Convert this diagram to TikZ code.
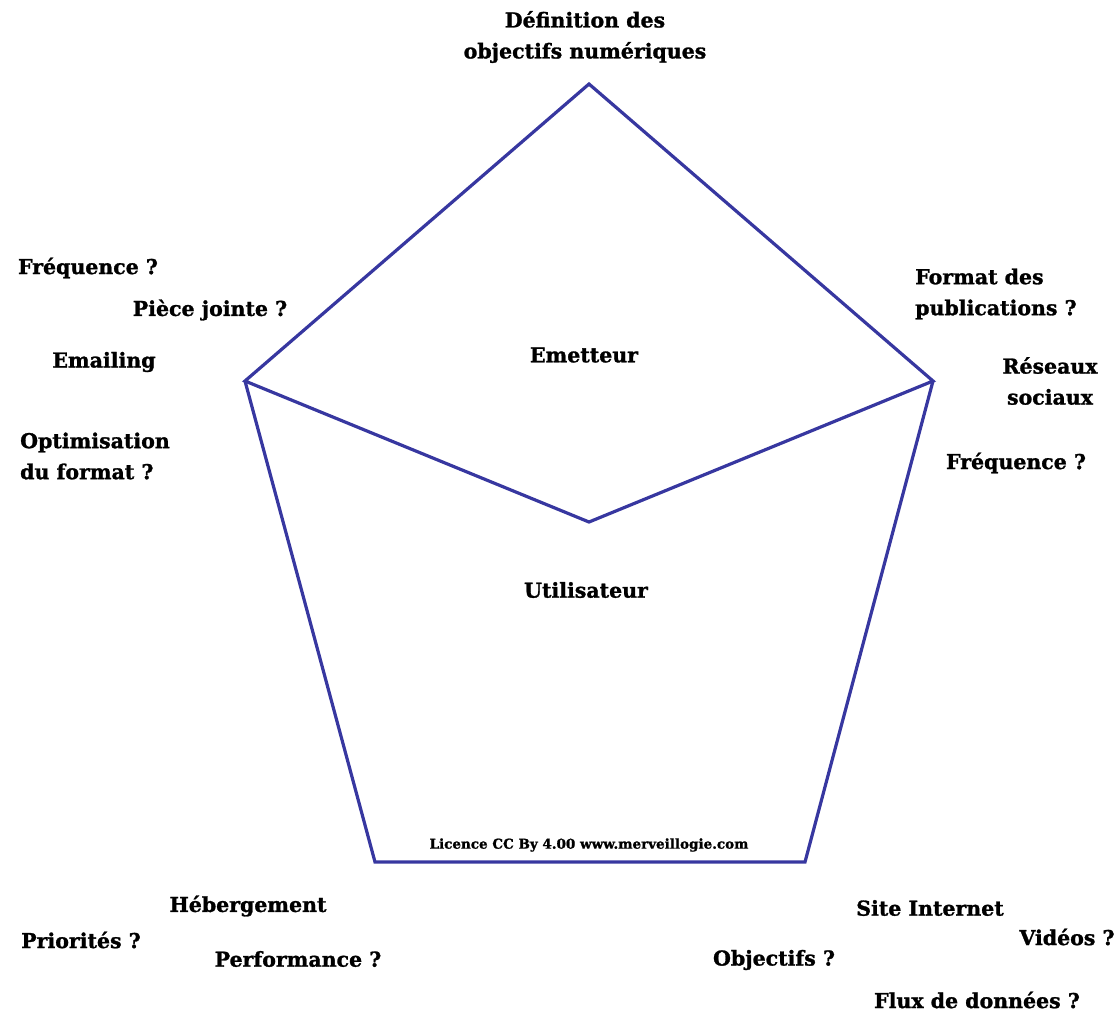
\documentclass[tikz,border=0pt]{standalone}
\usepackage{fontspec}
\setmainfont{DejaVu Serif}[BoldFeatures={FakeBold=1.3}]
\begin{document}
\begin{tikzpicture}[x=1pt,y=-1pt,
  lbl/.style={font=\bfseries\fontsize{20.5}{31}\selectfont, inner sep=0pt, align=center},
  lbll/.style={lbl, align=left},
  edge/.style={draw={rgb,255:red,55;green,55;blue,160}, line width=3.2pt, line join=miter},
]
\useasboundingbox (0,0) rectangle (1119,1017);
\coordinate (T) at (589,84);
\coordinate (L) at (245,381);
\coordinate (R) at (933,381);
\coordinate (BL) at (375,862);
\coordinate (BR) at (805,862);
\coordinate (C) at (589,522);
\draw[edge] (L) -- (T) -- (R) -- (C) -- cycle;
\draw[edge] (L) -- (BL) -- (BR) -- (R);

\node[lbl] (def) at (585,37) {Définition des\\objectifs numériques};
\node[lbl] (emet) at (584,355) {Emetteur};
\node[lbl] (util) at (586,590) {Utilisateur};
\node[lbl, font=\bfseries\fontsize{13.5}{15}\selectfont] (lic) at (589,845) {Licence CC By 4.00 www.merveillogie.com};

\node[lbl] (freqL) at (88,268) {Fréquence ?};
\node[lbl] (piece) at (210,310) {Pièce jointe ?};
\node[lbl] (email) at (104,362) {Emailing};
\node[lbll, anchor=west] (optim) at (20,456) {Optimisation\\du format ?};

\node[lbll, anchor=west] (format) at (915,294) {Format des\\publications ?};
\node[lbl] (reseaux) at (1050,381) {Réseaux\\sociaux};
\node[lbl] (freqR) at (1016,463) {Fréquence ?};

\node[lbl] (heberg) at (248,906) {Hébergement};
\node[lbl] (prio) at (81,940) {Priorités ?};
\node[lbl] (perf) at (298,959) {Performance ?};

\node[lbl] (site) at (930,908) {Site Internet};
\node[lbl] (videos) at (1067,937) {Vidéos ?};
\node[lbl] (objectifs) at (774,960) {Objectifs ?};
\node[lbl] (flux) at (977,1000) {Flux de données ?};
\end{tikzpicture}
\end{document}
